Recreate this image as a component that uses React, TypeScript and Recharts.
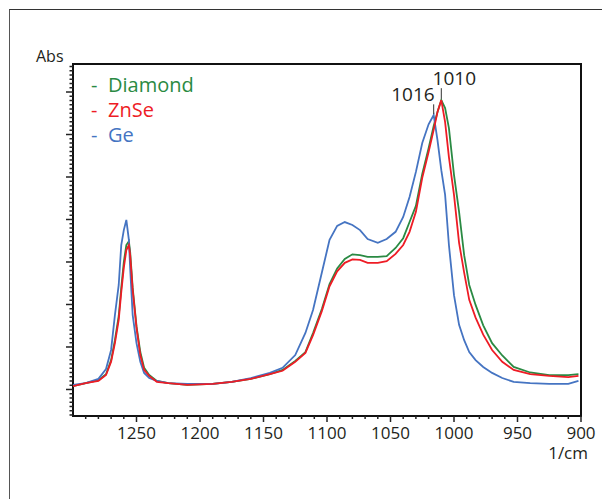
import { LineChart, Line, XAxis, YAxis, ReferenceArea, ReferenceLine } from "recharts"

// wavenumber grid, 1/cm
const wavenumbers = [
  1300, 1290, 1280, 1274, 1270, 1267, 1264, 1262, 1260, 1258,
  1256, 1255, 1253, 1250, 1247, 1244, 1240, 1234, 1225, 1210,
  1190, 1175, 1160, 1145, 1135, 1125, 1117, 1111, 1104, 1098,
  1092, 1086, 1080, 1074, 1068, 1060, 1053, 1046, 1040, 1035,
  1030, 1025, 1020, 1016, 1013, 1010, 1007, 1004, 1000, 996,
  992, 988, 983, 977, 970, 962, 953, 940, 925, 910, 902,
]

const diamond = [
  0.008, 0.015, 0.022, 0.036, 0.069, 0.116, 0.173, 0.239, 0.3, 0.34,
  0.349, 0.324, 0.239, 0.149, 0.088, 0.051, 0.034, 0.02, 0.015, 0.011,
  0.013, 0.018, 0.025, 0.036, 0.046, 0.067, 0.088, 0.133, 0.19, 0.248,
  0.285, 0.307, 0.318, 0.316, 0.312, 0.312, 0.314, 0.333, 0.356, 0.394,
  0.432, 0.507, 0.568, 0.62, 0.653, 0.681, 0.662, 0.615, 0.505, 0.418,
  0.316, 0.246, 0.199, 0.151, 0.109, 0.08, 0.053, 0.04, 0.034, 0.034, 0.036,
]

const znse = [
  0.008, 0.015, 0.02, 0.034, 0.065, 0.109, 0.164, 0.229, 0.286, 0.328,
  0.34, 0.316, 0.234, 0.145, 0.081, 0.046, 0.032, 0.018, 0.015, 0.011,
  0.013, 0.018, 0.025, 0.036, 0.044, 0.065, 0.086, 0.128, 0.185, 0.243,
  0.278, 0.298, 0.306, 0.305, 0.298, 0.298, 0.302, 0.319, 0.34, 0.371,
  0.418, 0.498, 0.559, 0.611, 0.653, 0.681, 0.629, 0.547, 0.458, 0.345,
  0.275, 0.211, 0.169, 0.129, 0.093, 0.065, 0.046, 0.036, 0.032, 0.029, 0.032,
]

const ge = [
  0.011, 0.015, 0.025, 0.048, 0.093, 0.175, 0.246, 0.34, 0.375, 0.399,
  0.352, 0.286, 0.175, 0.109, 0.065, 0.039, 0.027, 0.02, 0.015, 0.013,
  0.013, 0.018, 0.027, 0.039, 0.051, 0.081, 0.133, 0.187, 0.276, 0.352,
  0.385, 0.394, 0.387, 0.375, 0.354, 0.345, 0.354, 0.371, 0.406, 0.453,
  0.512, 0.58, 0.624, 0.646, 0.587, 0.516, 0.458, 0.34, 0.222, 0.152,
  0.116, 0.088, 0.069, 0.053, 0.039, 0.027, 0.018, 0.015, 0.013, 0.013, 0.02,
]

const xLabels = [1250, 1200, 1150, 1100, 1050, 1000, 950, 900]
const xMin = 900
const xMax = 1300
const yMin = -0.0624
const yMax = 0.7659

// peak marks: position, label, leader line ends
const peaks = [
  { wn: 1010, label: "1010", y1: 0.684, y2: 0.709, dx: 13, anchor: "middle" },
  { wn: 1016, label: "1016", y1: 0.648, y2: 0.671, dx: 1, anchor: "end" },
]

const series = [
  { key: "diamond", name: "Diamond", color: "#2a8a43" },
  { key: "ge", name: "Ge", color: "#4574c2" },
  { key: "znse", name: "ZnSe", color: "#ee1c25" },
]
const legendOrder = ["diamond", "znse", "ge"]

const FONT = "'Open Sans', 'Noto Sans', sans-serif"
const INK = "#231f20"

const data = wavenumbers.map((wn, i) => ({
  wn,
  diamond: diamond[i],
  znse: znse[i],
  ge: ge[i],
}))

// minor ticks every 10 1/cm, labels every 50
const xTicks: number[] = []
for (let v = xMax - 10; v >= xMin; v -= 10) xTicks.push(v)

const yTicks: number[] = []
for (let i = -6; i <= 76; i++) yTicks.push(i / 100)

function XTick({ x, y, payload }: any) {
  const v = payload.value
  const major = xLabels.includes(v)
  return (
    <g>
      <line x1={x} x2={x} y1={y} y2={y + (major ? 6 : 3)} stroke="#222" strokeWidth={1.5} />
      {major && (
        <text x={x} y={y + 23} textAnchor="middle" fontSize={17} fill={INK} fontFamily={FONT}>
          {v}
        </text>
      )}
    </g>
  )
}

function YTick({ x, y, payload }: any) {
  const i = Math.round(payload.value * 100)
  const major = i % 10 === 0
  return <line x1={x - (major ? 7 : 3.5)} x2={x} y1={y} y2={y} stroke="#222" strokeWidth={1.5} />
}

function PeakLabel({ viewBox, text, dx, anchor }: any) {
  if (!viewBox) return null
  return (
    <text
      x={viewBox.x + dx}
      y={viewBox.y - 3}
      textAnchor={anchor}
      fontSize={19}
      fill={INK}
      fontFamily={FONT}
    >
      {text}
    </text>
  )
}

export default function App() {
  return (
    <div
      style={{
        position: "fixed",
        left: 0,
        top: 0,
        width: 602,
        height: 499,
        overflow: "hidden",
        background: "#fff",
        fontFamily: FONT,
      }}
    >
      <div
        style={{
          position: "absolute",
          left: 9,
          top: 9,
          width: 620,
          height: 520,
          borderTop: "1px solid #333",
          borderLeft: "1px solid #555",
        }}
      />
      <div style={{ position: "absolute", left: 0, top: 0 }}>
        <LineChart
          width={602}
          height={499}
          data={data}
          margin={{ top: 64, right: 21, left: 63, bottom: 53 }}
        >
          <XAxis
            dataKey="wn"
            type="number"
            domain={[xMin, xMax]}
            reversed
            allowDataOverflow
            ticks={xTicks}
            interval={0}
            tick={<XTick />}
            tickSize={0}
            tickMargin={0}
            tickLine={false}
            axisLine={false}
            height={30}
          />
          <YAxis
            type="number"
            domain={[yMin, yMax]}
            allowDataOverflow
            ticks={yTicks}
            interval={0}
            tick={<YTick />}
            tickSize={0}
            tickMargin={0}
            tickLine={false}
            axisLine={false}
            width={10}
          />
          {series.map((s) => (
            <Line
              key={s.key}
              type="linear"
              dataKey={s.key}
              name={s.name}
              stroke={s.color}
              strokeWidth={1.8}
              dot={false}
              isAnimationActive={false}
            />
          ))}
          {peaks.map((p) => (
            <ReferenceLine
              key={p.label}
              segment={[
                { x: p.wn, y: p.y1 },
                { x: p.wn, y: p.y2 },
              ]}
              stroke="#333"
              strokeWidth={1}
              ifOverflow="visible"
              label={<PeakLabel text={p.label} dx={p.dx} anchor={p.anchor} />}
            />
          ))}
          <ReferenceArea
            x1={xMax}
            x2={xMin}
            y1={yMin}
            y2={yMax}
            fill="none"
            fillOpacity={0}
            stroke="#111"
            strokeWidth={2}
            strokeOpacity={1}
            ifOverflow="visible"
          />
        </LineChart>
      </div>
      <div
        style={{
          position: "absolute",
          left: 36,
          top: 46,
          fontSize: 16,
          color: INK,
          lineHeight: "20px",
        }}
      >
        Abs
      </div>
      <div
        style={{
          position: "absolute",
          right: 14,
          top: 442,
          fontSize: 17,
          color: INK,
          lineHeight: "22px",
        }}
      >
        1/cm
      </div>
      <div style={{ position: "absolute", left: 91, top: 72 }}>
        {legendOrder.map((k) => {
          const s = series.find((d) => d.key === k)!
          return (
            <div
              key={k}
              style={{ color: s.color, fontSize: 20, lineHeight: "25px", height: 25, whiteSpace: "nowrap" }}
            >
              <span style={{ display: "inline-block", width: 17 }}>-</span>
              {s.name}
            </div>
          )
        })}
      </div>
    </div>
  )
}
